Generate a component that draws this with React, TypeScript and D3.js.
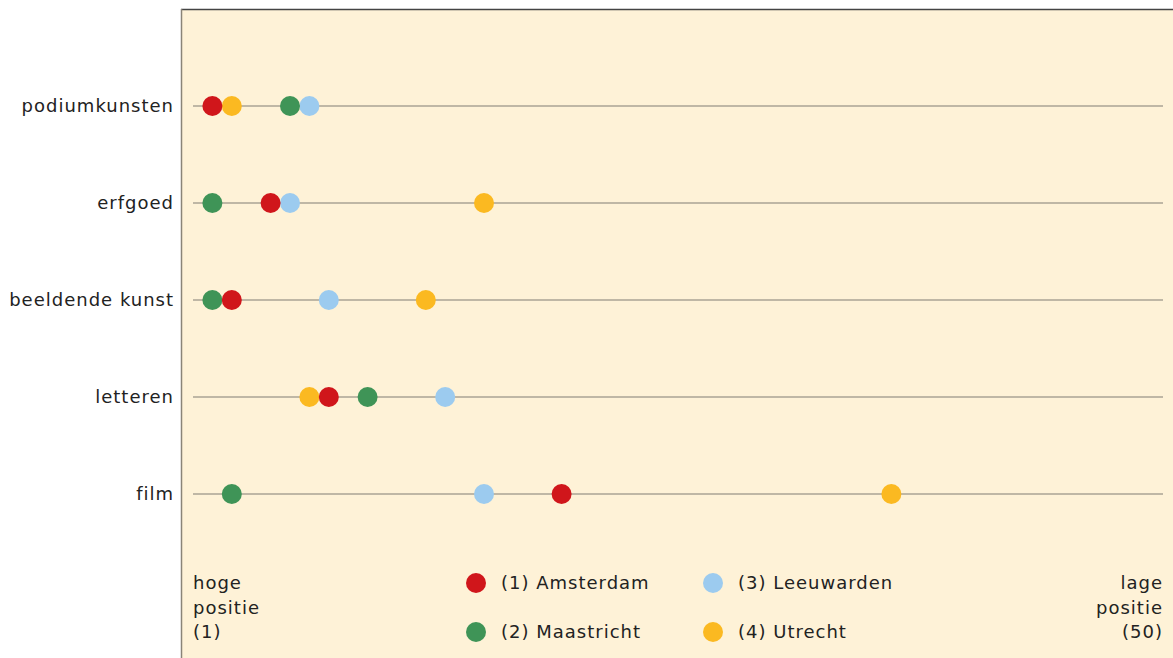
import React from "react";
import * as d3 from "d3";

const categories = ["podiumkunsten", "erfgoed", "beeldende kunst", "letteren", "film"];
const cities = ["(1) Amsterdam", "(2) Maastricht", "(3) Leeuwarden", "(4) Utrecht"];
const colors = ["#d0161b", "#3f9457", "#9ccbef", "#fbb921"];
// ranks per category: Amsterdam, Maastricht, Leeuwarden, Utrecht
const amsterdam = [1, 4, 2, 7, 19];
const maastricht = [5, 1, 1, 9, 2];
const leeuwarden = [6, 5, 7, 13, 15];
const utrecht = [2, 15, 12, 6, 36];
const series = [amsterdam, maastricht, leeuwarden, utrecht];

const W = 1173, H = 658;
const font = "'DejaVu Sans', sans-serif";
const fs = 18;
const ls = 1.0;

export default function App() {
  const x = d3.scaleLinear().domain([0, 50]).range([193, 1163]);
  const y = d3.scalePoint<string>().domain(categories).range([106, 494]);
  const drawOrder = [3, 2, 1, 0];
  const txt = { fontFamily: font, fontSize: fs, letterSpacing: ls, fill: "#222" } as const;
  return (
    <svg width={W} height={H} style={{ position: "absolute", left: 0, top: 0 }}>
      <rect x={181} y={10} width={W - 181} height={H - 10} fill="#fef2d7" />
      <line x1={181} x2={W} y1={9.5} y2={9.5} stroke="#444" strokeWidth={1.5} />
      <line x1={181.5} x2={181.5} y1={9} y2={H} stroke="#8a8478" strokeWidth={1.5} />
      {categories.map((c) => (
        <g key={c}>
          <line x1={x(0)} x2={x(50)} y1={y(c)!} y2={y(c)!} stroke="#aaa394" strokeWidth={1.5} />
          <text x={174} y={y(c)!} dy="0.35em" textAnchor="end" {...txt}>
            {c}
          </text>
        </g>
      ))}
      {drawOrder.map((si) =>
        categories.map((c, ci) => (
          <circle key={si + "-" + c} cx={x(series[si][ci])} cy={y(c)!} r={10} fill={colors[si]} />
        ))
      )}
      {["hoge", "positie", "(1)"].map((t, i) => (
        <text key={t} x={193} y={583 + i * 24.5} dy="0.35em" {...txt}>{t}</text>
      ))}
      {["lage", "positie", "(50)"].map((t, i) => (
        <text key={t} x={1163} y={583 + i * 24.5} dy="0.35em" textAnchor="end" {...txt}>{t}</text>
      ))}
      {cities.map((name, i) => {
        const lx = i < 2 ? 476 : 713;
        const ly = i % 2 === 0 ? 583 : 632;
        return (
          <g key={name}>
            <circle cx={lx} cy={ly} r={10} fill={colors[i]} />
            <text x={lx + 25} y={ly} dy="0.35em" {...txt}>{name}</text>
          </g>
        );
      })}
    </svg>
  );
}
